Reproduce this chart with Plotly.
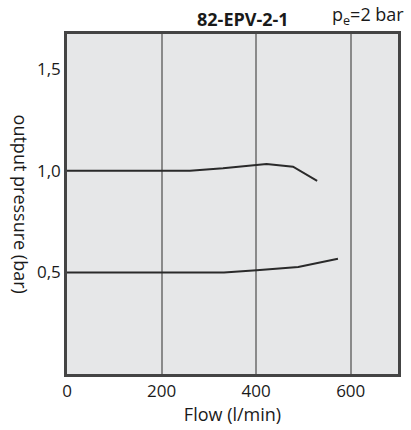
import plotly.graph_objects as go

flow_hi = [0, 260, 330, 422, 478, 529]
p_hi = [1.0, 1.0, 1.012, 1.033, 1.02, 0.95]
flow_lo = [0, 332, 401, 489, 573]
p_lo = [0.5, 0.5, 0.511, 0.527, 0.567]
x_ticks = [0, 200, 400, 600]
y_ticks = [0.5, 1.0, 1.5]
y_tick_text = ["0,5", "1,0", "1,5"]

FONT = "Open Sans"
fig = go.Figure()
for fx, py in [(flow_hi, p_hi), (flow_lo, p_lo)]:
    fig.add_trace(go.Scatter(x=fx, y=py, mode="lines",
                             line=dict(color="#2a2a2a", width=2), showlegend=False))

fig.update_layout(
    width=411, height=430,
    margin=dict(l=67, r=10, t=34, b=56),
    paper_bgcolor="white", plot_bgcolor="#e6e7e8",
    font=dict(family=FONT, size=17, color="#1a1a1a"),
)
fig.update_xaxes(range=[0, 700], tickvals=x_ticks, showgrid=True, gridcolor="#8a8a8a",
                 gridwidth=1.5, zeroline=False, showline=True, linecolor="#444",
                 linewidth=2.5, mirror=True, ticks="", ticklen=0,
                 tickfont=dict(size=17),
                 title=dict(text="Flow (l/min)", standoff=4, font=dict(size=18)))
fig.update_yaxes(range=[0, 1.673], tickvals=y_ticks, ticktext=y_tick_text, showgrid=False,
                 zeroline=False, showline=True, linecolor="#444", linewidth=2.5,
                 mirror=True, ticks="", ticklen=0, tickfont=dict(size=17))

fig.add_annotation(text="<b>82-EPV-2-1</b>", x=(245 - 67) / 334, y=1, xref="paper", yref="paper",
                   xanchor="center", yanchor="bottom", yshift=1, showarrow=False,
                   font=dict(size=18, family=FONT))
fig.add_annotation(text="p<sub>e</sub>=2 bar", x=(409 - 67) / 334, y=1, xref="paper", yref="paper",
                   xanchor="right", yanchor="bottom", yshift=3, showarrow=False,
                   font=dict(size=18, family=FONT))
fig.add_annotation(text="output pressure (bar)", x=(21 - 67) / 334, y=0.5, xref="paper", yref="paper",
                   xanchor="center", yanchor="middle", textangle=90, showarrow=False,
                   font=dict(size=18, family=FONT))

fig.write_html("out.html", config={"displayModeBar": False},
               post_script="document.body.style.margin='0';")
